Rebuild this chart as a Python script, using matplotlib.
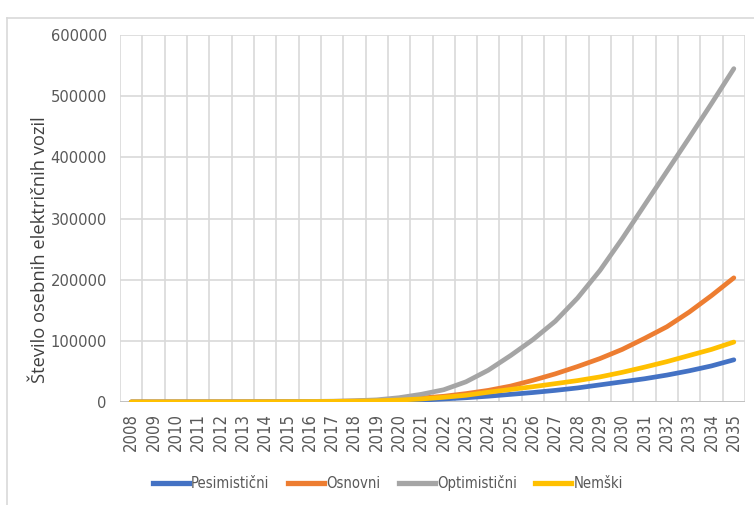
import matplotlib
matplotlib.use("Agg")
import matplotlib.pyplot as plt
from matplotlib.lines import Line2D
from matplotlib import font_manager

years = list(range(2008, 2036))

pesimisticni = [10, 20, 40, 70, 100, 150, 250, 400, 600, 800, 1100, 1500, 2200, 3000, 5000,
                7000, 9500, 12500, 15500, 19000, 23000, 28000, 33000, 38000, 44000, 51000,
                59000, 69000]
osnovni = [10, 20, 40, 70, 100, 150, 300, 500, 700, 1000, 1500, 2500, 4000, 6500, 9300,
           13700, 19000, 26000, 35500, 46000, 58000, 71000, 86000, 104000, 123000, 147000,
           174000, 203000]
optimisticni = [10, 20, 40, 70, 100, 200, 400, 600, 900, 1300, 2000, 3500, 7000, 12600,
                20000, 33000, 52000, 76000, 102000, 132000, 170000, 215000, 267000, 322000,
                377000, 432000, 488000, 545000]
nemski = [10, 20, 40, 70, 100, 150, 250, 400, 600, 900, 1300, 2000, 3200, 5000, 7700,
          11000, 16000, 20500, 25000, 30000, 35000, 41000, 48500, 57000, 66000, 76000,
          86000, 98000]

series_names = ["Pesimistični", "Osnovni", "Optimistični", "Nemški"]
series_values = [pesimisticni, osnovni, optimisticni, nemski]
series_colors = ["#4472C4", "#ED7D31", "#A5A5A5", "#FFC000"]

y_ticks = [0, 100000, 200000, 300000, 400000, 500000, 600000]
y_label = "Število osebnih električnih vozil"

# a condensed face for the tick and legend text
condensed_files = [f.fname for f in font_manager.fontManager.ttflist
                   if "DejaVu Sans" in f.name and "condensed" in str(f.stretch).lower()
                   and f.weight in (400, "normal") and f.style == "normal"]
if condensed_files:
    narrow_kw = dict(fname=condensed_files[0])
else:
    narrow_kw = dict(family="DejaVu Sans", stretch="condensed")


def narrow(size):
    return font_manager.FontProperties(size=size, **narrow_kw)


text_grey = "#595959"
grid_grey = "#D9D9D9"

fig = plt.figure(figsize=(7.54, 5.05), dpi=100)
ax = fig.add_axes([120 / 754, 1 - 402 / 505, (745 - 120) / 754, (402 - 35) / 505])

for name, vals, col in zip(series_names, series_values, series_colors):
    ax.plot(years, vals, color=col, lw=3.4, solid_capstyle="round",
            solid_joinstyle="round", label=name, zorder=3)

ax.set_xlim(years[0] - 0.5, years[-1] + 0.5)
ax.set_ylim(0, 600000)

# category boundaries carry the vertical gridlines
for k in range(len(years) + 1):
    ax.axvline(years[0] - 0.5 + k, color=grid_grey, lw=1.2, zorder=1)
for t in y_ticks:
    ax.axhline(t, color=grid_grey, lw=1.2, zorder=1)

for s in ax.spines.values():
    s.set_visible(False)
ax.axhline(0, color="#BFBFBF", lw=1.3, zorder=2)

ax.set_xticks(years)
ax.set_xticklabels([str(y) for y in years], rotation=90, fontproperties=narrow(12),
                   color=text_grey)
ax.set_yticks(y_ticks)
ax.set_yticklabels([str(t) for t in y_ticks], fontproperties=narrow(11.8), color=text_grey)
ax.tick_params(axis="both", length=0)
ax.tick_params(axis="x", pad=8)
ax.tick_params(axis="y", pad=9.5)

fig.text(40 / 754, 1 - 250 / 505, y_label, rotation=90, ha="center", va="center",
         family=["Open Sans", "DejaVu Sans"], fontsize=13.2, color="#404040")

handles = [Line2D([0], [0], color=c, lw=3.8) for c in series_colors]
fig.legend(handles, series_names, loc="center", ncol=4,
           bbox_to_anchor=(388 / 754, 1 - 483 / 505), frameon=False,
           prop=narrow(10.6), labelcolor=text_grey,
           handlelength=2.45, handletextpad=0.15, columnspacing=1.25)

# outer chart border (top and left edges visible)
fig.add_artist(Line2D([7 / 754, 7 / 754], [0, 1 - 18 / 505], color="#D9D9D9", lw=1.2,
                      transform=fig.transFigure))
fig.add_artist(Line2D([7 / 754, 1], [1 - 18 / 505, 1 - 18 / 505], color="#D9D9D9", lw=1.2,
                      transform=fig.transFigure))

fig.savefig("out.png", dpi=100)
